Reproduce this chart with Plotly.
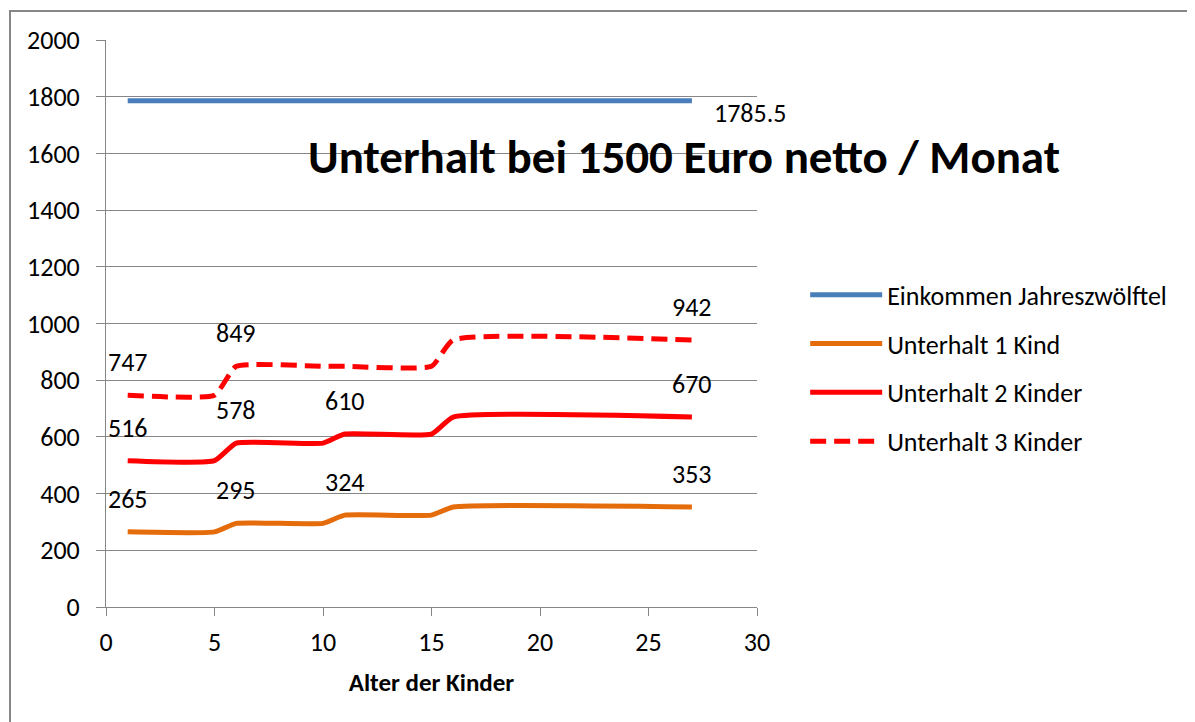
import plotly.graph_objects as go

# ---- data ----
ages = [1, 5, 6, 10, 11, 15, 16, 27]
einkommen = [1785.5, 1785.5, 1785.5, 1785.5, 1785.5, 1785.5, 1785.5, 1785.5]
kind1 = [265, 265, 295, 295, 324, 324, 353, 353]
kind2 = [516, 516, 578, 578, 610, 610, 670, 670]
kind3 = [747, 747, 849, 849, 849, 849, 942, 942]

series_names = ["Einkommen Jahreszwölftel", "Unterhalt 1 Kind", "Unterhalt 2 Kinder", "Unterhalt 3 Kinder"]
series_values = [einkommen, kind1, kind2, kind3]
series_colors = ["#4A7EBB", "#E46C0A", "#FF0000", "#FF0000"]
series_dash = ["solid", "solid", "solid", "16px,8px"]

# indices of points that carry a data label
label_idx = [[7], [0, 2, 4, 7], [0, 2, 4, 7], [0, 2, 7]]

title_text = "Unterhalt bei 1500 Euro netto / Monat"
x_title = "Alter der Kinder"

FONT = "Carlito, Calibri, Lato, sans-serif"
GRID = "#868686"

# page body has an 8px margin -> figure is 8px smaller and all positions shifted
W, H = 1187, 714

fig = go.Figure()
for i, (name, vals) in enumerate(zip(series_names, series_values)):
    fig.add_trace(go.Scatter(
        x=ages, y=vals, mode="lines", name=name, legendgroup=name,
        line=dict(color=series_colors[i], width=5, dash=series_dash[i],
                  shape="spline", smoothing=0.45),
        hoverinfo="x+y",
    ))

annotations = []
for i, vals in enumerate(series_values):
    for k in label_idx[i]:
        v = vals[k]
        txt = f"{v:g}"
        if i == 0:
            annotations.append(dict(x=ages[k], y=v, text=txt, showarrow=False,
                                    xshift=58, yshift=-12,
                                    font=dict(family=FONT, size=26, color="black")))
        else:
            annotations.append(dict(x=ages[k], y=v, text=txt, showarrow=False,
                                    yshift=33,
                                    font=dict(family=FONT, size=26, color="black")))

fig.update_layout(
    width=W, height=H,
    margin=dict(l=98, r=438, t=32, b=115),
    paper_bgcolor="white", plot_bgcolor="white",
    font=dict(family=FONT, size=26, color="black"),
    title=dict(text=f"<b>{title_text}</b>", x=(684-8)/W, y=1-(157-8)/H,
               xanchor="center", yanchor="middle", xref="container", yref="container",
               font=dict(family=FONT, size=47, color="black")),
    xaxis=dict(range=[0, 30], dtick=5, showgrid=False, showline=True, linecolor=GRID,
               linewidth=1, ticks="outside", ticklen=8, tickcolor=GRID, zeroline=False,
               ticklabelstandoff=4,
               title=dict(text=f"<b>{x_title}</b>", font=dict(family=FONT, size=25), standoff=16),
               tickfont=dict(family=FONT, size=26)),
    yaxis=dict(range=[0, 2000], dtick=200, showgrid=True, gridcolor=GRID, gridwidth=1,
               showline=True, linecolor=GRID, linewidth=1, ticks="outside", ticklen=9,
               ticklabelstandoff=11,
               tickcolor=GRID, zeroline=False, tickfont=dict(family=FONT, size=26)),
    legend=dict(x=1.074, y=0.592, xanchor="left", yanchor="top", tracegroupgap=12,
                font=dict(family=FONT, size=26), bgcolor="rgba(0,0,0,0)", itemwidth=72),
    showlegend=True,
    annotations=annotations,
    shapes=[dict(type="rect", xref="paper", yref="paper",
                 x0=(10-106)/651, x1=(1220-106)/651, y0=(607-750)/567, y1=(607-11)/567,
                 line=dict(color=GRID, width=2), fillcolor="rgba(0,0,0,0)", layer="below")],
)

fig.write_html("out.html")
